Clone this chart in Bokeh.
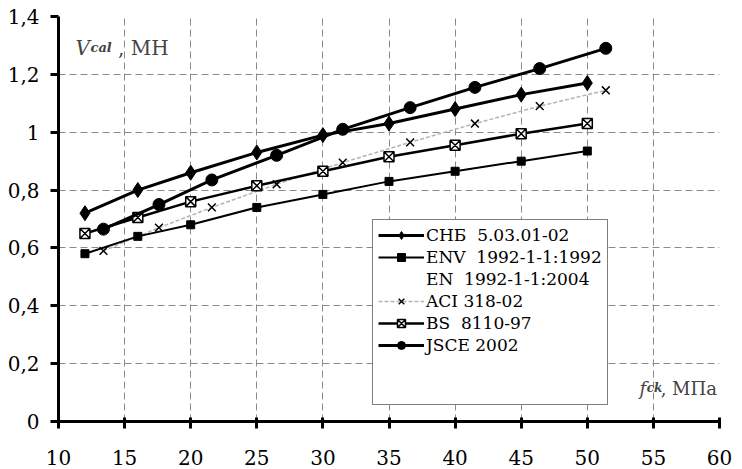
from bokeh.plotting import figure
from bokeh.models import Range1d, FixedTicker, Legend, LegendItem, Label
from bokeh.embed import file_html
from bokeh.resources import INLINE

# ---- data ----
fck_a = [12, 16, 20, 25, 30, 35, 40, 45, 50]
fck_b = [13.4, 17.6, 21.6, 26.5, 31.5, 36.6, 41.5, 46.4, 51.4]
snb = [0.72, 0.80, 0.86, 0.93, 0.99, 1.03, 1.08, 1.13, 1.17]
env = [0.58, 0.64, 0.68, 0.74, 0.785, 0.83, 0.865, 0.90, 0.935]
bs = [0.65, 0.705, 0.76, 0.815, 0.865, 0.915, 0.955, 0.995, 1.03]
aci = [0.59, 0.67, 0.74, 0.82, 0.895, 0.965, 1.03, 1.09, 1.145]
jsce = [0.665, 0.75, 0.835, 0.92, 1.01, 1.085, 1.155, 1.22, 1.29]

x_ticks = [10, 15, 20, 25, 30, 35, 40, 45, 50, 55, 60]
y_ticks = [0, 0.2, 0.4, 0.6, 0.8, 1.0, 1.2, 1.4]
y_tick_labels = ["0", "0,2", "0,4", "0,6", "0,8", "1", "1,2", "1,4"]

names = ["СНБ  5.03.01-02", "ENV  1992-1-1:1992", "EN  1992-1-1:2004",
         "ACI 318-02", "BS  8110-97", "JSCE 2002"]

FONT = "DejaVu Serif"

p = figure(width=741, height=468, output_backend="svg", toolbar_location=None,
           x_range=Range1d(10, 60), y_range=Range1d(0, 1.4),
           min_border_left=58, min_border_right=22, min_border_top=16,
           min_border_bottom=47)
p.outline_line_color = None
p.background_fill_color = "white"

# axes
for ax in (p.xaxis[0], p.yaxis[0]):
    ax.axis_line_width = 3
    ax.axis_line_color = "black"
    ax.major_tick_line_width = 3
    ax.major_tick_line_color = "black"
    ax.minor_tick_line_color = None
    ax.major_label_text_font = FONT
    ax.major_label_text_font_size = "20px"
    ax.major_label_text_color = "black"

p.xaxis.ticker = FixedTicker(ticks=x_ticks)
p.xaxis.major_tick_in = 4
p.xaxis.major_tick_out = 7
p.xaxis.major_label_standoff = 21

p.yaxis.ticker = FixedTicker(ticks=y_ticks)
p.yaxis.major_label_overrides = {t: l for t, l in zip(y_ticks, y_tick_labels)}
p.yaxis.major_tick_in = 0
p.yaxis.major_tick_out = 8
p.yaxis.major_label_standoff = 11

p.xgrid.ticker = FixedTicker(ticks=x_ticks)
p.ygrid.ticker = FixedTicker(ticks=y_ticks)
for g in (p.xgrid[0], p.ygrid[0]):
    g.grid_line_color = "#8a8a8a"
    g.grid_line_dash = "7 4"
    g.grid_line_width = 1

# series
r_aci_l = p.line(fck_b, aci, line_color="#b4b4b4", line_width=1.5, line_dash="4 2")
r_aci_m = p.scatter(fck_b, aci, marker="x", size=11, line_color="black", line_width=1.5)

r_env_l = p.line(fck_a, env, line_color="black", line_width=2)
r_env_m = p.scatter(fck_a, env, marker="square", size=8, fill_color="black",
                    line_color="black")

r_bs_l = p.line(fck_a, bs, line_color="black", line_width=2.5)
r_bs_m = p.scatter(fck_a, bs, marker="square_x", size=10, fill_color="white",
                   line_color="black", line_width=1.5)

r_snb_l = p.line(fck_a, snb, line_color="black", line_width=3)
r_snb_m = p.scatter(fck_a, snb, marker="diamond", size=15, fill_color="black",
                    line_color="black")

r_jsce_l = p.line(fck_b, jsce, line_color="black", line_width=3)
r_jsce_m = p.scatter(fck_b, jsce, marker="circle", size=12, fill_color="black",
                     line_color="black")

empty = p.line(x=[], y=[], line_alpha=0)

legend = Legend(items=[
    LegendItem(label=names[0], renderers=[r_snb_l, r_snb_m]),
    LegendItem(label=names[1], renderers=[r_env_l, r_env_m]),
    LegendItem(label=names[2], renderers=[empty]),
    LegendItem(label=names[3], renderers=[r_aci_l, r_aci_m]),
    LegendItem(label=names[4], renderers=[r_bs_l, r_bs_m]),
    LegendItem(label=names[5], renderers=[r_jsce_l, r_jsce_m]),
    LegendItem(label=" ", renderers=[empty]),
    LegendItem(label="  ", renderers=[empty]),
], location=(314, 16))
legend.label_text_font = FONT
legend.label_text_font_size = "17px"
legend.label_text_color = "black"
legend.glyph_width = 46
legend.glyph_height = 20
legend.label_height = 20
legend.spacing = 2
legend.padding = 5
legend.margin = 0
legend.label_standoff = 2
legend.border_line_color = "black"
legend.border_line_width = 1
legend.background_fill_color = "white"
legend.background_fill_alpha = 1
p.add_layout(legend, "center")

# axis titles
p.add_layout(Label(x=11.29, y=1.292, text="V", text_font=FONT,
                   text_font_style="italic", text_font_size="20px",
                   text_baseline="alphabetic"))
p.add_layout(Label(x=12.42, y=1.292, text="cal", text_font=FONT,
                   text_font_style="bold italic", text_font_size="13px",
                   text_baseline="alphabetic"))
p.add_layout(Label(x=14.5, y=1.292, text=", МН", text_font=FONT,
                   text_font_size="20px", text_baseline="alphabetic"))

p.add_layout(Label(x=53.95, y=0.115, text="f", text_font=FONT,
                   text_font_style="italic", text_font_size="18px",
                   text_baseline="alphabetic"))
p.add_layout(Label(x=54.5, y=0.115, text="ck", text_font=FONT,
                   text_font_style="bold italic", text_font_size="12px",
                   text_baseline="alphabetic"))
p.add_layout(Label(x=55.55, y=0.115, text=", МПа", text_font=FONT,
                   text_font_size="18px", text_baseline="alphabetic"))

open("out.html", "w").write(file_html(p, INLINE))
